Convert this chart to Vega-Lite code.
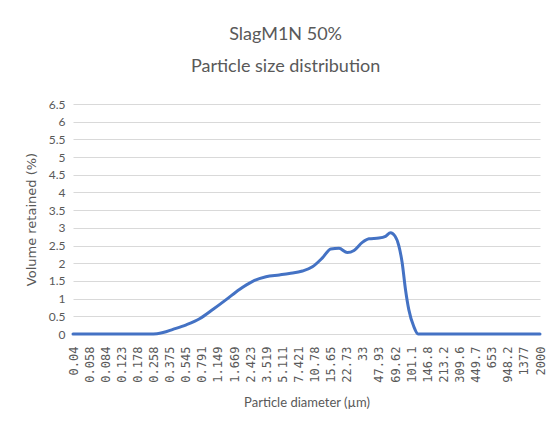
{
  "$schema": "https://vega.github.io/schema/vega-lite/v6.json",
  "autosize": {"type": "none"},
  "width": 467,
  "height": 230,
  "padding": {"left": 73, "top": 104, "right": 15, "bottom": 98},
  "background": "white",
  "title": {
    "text": ["SlagM1N 50%", "Particle size distribution"],
    "font": "Lato",
    "fontSize": 18,
    "fontWeight": "normal",
    "color": "#595959",
    "lineHeight": 32,
    "anchor": "middle",
    "frame": "bounds",
    "offset": 22
  },
  "data": {
    "values": [
      {"d": 0.04, "v": 0},
      {"d": 0.058, "v": 0},
      {"d": 0.084, "v": 0},
      {"d": 0.123, "v": 0},
      {"d": 0.178, "v": 0},
      {"d": 0.237, "v": 0},
      {"d": 0.28, "v": 0.01},
      {"d": 0.322, "v": 0.04},
      {"d": 0.405, "v": 0.13},
      {"d": 0.552, "v": 0.26},
      {"d": 0.751, "v": 0.43},
      {"d": 1.02, "v": 0.69},
      {"d": 1.39, "v": 0.97},
      {"d": 1.89, "v": 1.26},
      {"d": 2.57, "v": 1.49},
      {"d": 3.5, "v": 1.62},
      {"d": 4.76, "v": 1.67},
      {"d": 6.0, "v": 1.71},
      {"d": 8.15, "v": 1.78},
      {"d": 10.26, "v": 1.9},
      {"d": 12.93, "v": 2.15},
      {"d": 15.7, "v": 2.4},
      {"d": 19.0, "v": 2.42},
      {"d": 23.0, "v": 2.3},
      {"d": 26.9, "v": 2.36},
      {"d": 32.6, "v": 2.59},
      {"d": 38.0, "v": 2.69},
      {"d": 47.9, "v": 2.71},
      {"d": 55.8, "v": 2.76},
      {"d": 62.7, "v": 2.86},
      {"d": 69.4, "v": 2.77},
      {"d": 76.0, "v": 2.49},
      {"d": 82.0, "v": 2.02},
      {"d": 88.6, "v": 1.26},
      {"d": 95.7, "v": 0.69},
      {"d": 107.4, "v": 0.21},
      {"d": 118.7, "v": 0},
      {"d": 146.8, "v": 0},
      {"d": 213.2, "v": 0},
      {"d": 309.6, "v": 0},
      {"d": 449.7, "v": 0},
      {"d": 653, "v": 0},
      {"d": 948.2, "v": 0},
      {"d": 1377, "v": 0},
      {"d": 2000, "v": 0}
    ]
  },
  "mark": {"type": "line", "color": "#4472C4", "strokeWidth": 3, "interpolate": "monotone", "strokeCap": "round"},
  "encoding": {
    "x": {
      "field": "d",
      "type": "quantitative",
      "scale": {"type": "log", "domain": [0.04, 2000], "nice": false},
      "axis": {
        "title": "Particle diameter (µm)",
        "values": [0.04, 0.058, 0.084, 0.123, 0.178, 0.258, 0.375, 0.545, 0.791, 1.149, 1.669, 2.423, 3.519, 5.111, 7.421, 10.78, 15.65, 22.73, 33, 47.93, 69.62, 101.1, 146.8, 213.2, 309.6, 449.7, 653, 948.2, 1377, 2000],
        "format": "~g",
        "labelAngle": -90,
        "labelAlign": "right",
        "labelBaseline": "middle",
        "labelFont": "DejaVu Sans Mono",
        "labelFontSize": 12,
        "labelColor": "#595959",
        "labelPadding": 12,
        "labelOverlap": false,
        "labelFlush": false,
        "ticks": false,
        "grid": false,
        "domain": true,
        "domainColor": "#D9D9D9",
        "titleFont": "Lato",
        "titleFontSize": 13,
        "titleFontWeight": "normal",
        "titleColor": "#595959",
        "titlePadding": 14
      }
    },
    "y": {
      "field": "v",
      "type": "quantitative",
      "scale": {"domain": [0, 6.5], "nice": false},
      "axis": {
        "title": "Volume retained (%)",
        "values": [0, 0.5, 1, 1.5, 2, 2.5, 3, 3.5, 4, 4.5, 5, 5.5, 6, 6.5],
        "format": "~g",
        "labelFont": "Lato",
        "labelFontSize": 12,
        "labelColor": "#595959",
        "labelPadding": 8,
        "ticks": false,
        "domain": false,
        "grid": true,
        "gridColor": "#D9D9D9",
        "gridWidth": 1,
        "titleFont": "DejaVu Sans",
        "titleFontSize": 13,
        "titleFontWeight": "normal",
        "titleColor": "#595959",
        "titlePadding": 10
      }
    }
  },
  "config": {"view": {"stroke": null}}
}
